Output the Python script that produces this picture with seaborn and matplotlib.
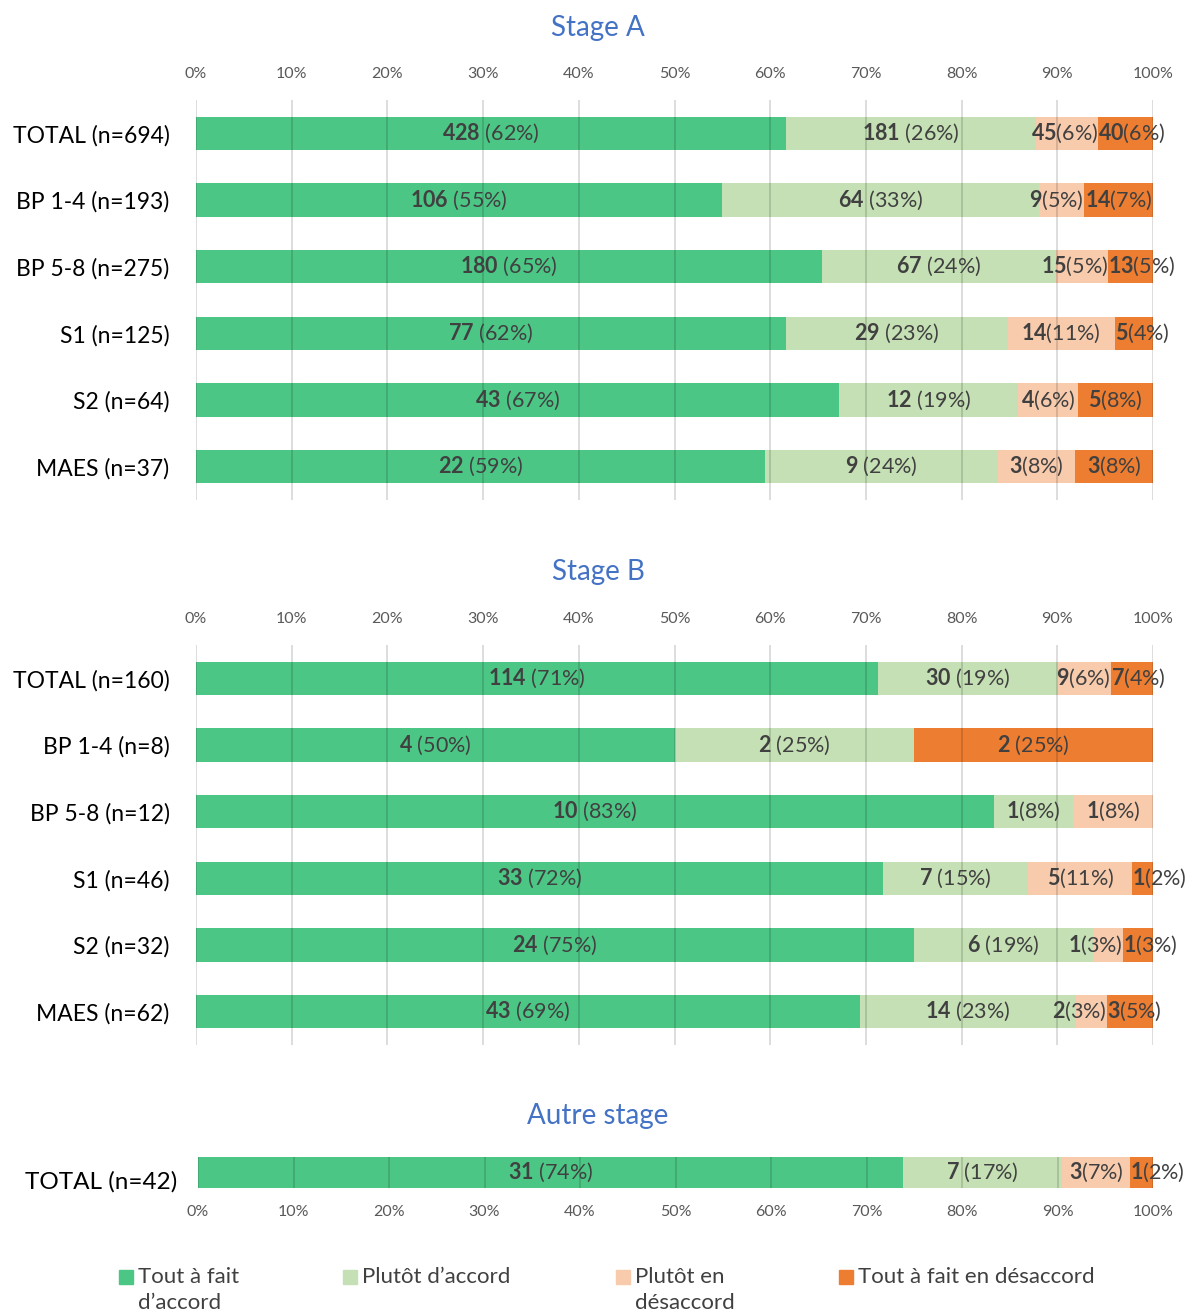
"""Stacked agreement bars for three internship stages."""

import matplotlib

matplotlib.use("Agg")
import matplotlib.pyplot as plt
import numpy as np
import pandas as pd
import seaborn as sns
from matplotlib.patches import Rectangle

CATEGORIES = [
    "Tout à fait\nd’accord",
    "Plutôt d’accord",
    "Plutôt en\ndésaccord",
    "Tout à fait en désaccord",
]
COLORS = ["#4CC685", "#C5E0B4", "#F8CBAD", "#ED7D31"]
TICKS = list(range(0, 101, 10))

STAGE_A_GROUPS = ["TOTAL (n=694)", "BP 1-4 (n=193)", "BP 5-8 (n=275)",
                  "S1 (n=125)", "S2 (n=64)", "MAES (n=37)"]
STAGE_A_TOUT_ACCORD = [428, 106, 180, 77, 43, 22]
STAGE_A_PLUTOT_ACCORD = [181, 64, 67, 29, 12, 9]
STAGE_A_PLUTOT_DESACCORD = [45, 9, 15, 14, 4, 3]
STAGE_A_TOUT_DESACCORD = [40, 14, 13, 5, 5, 3]

STAGE_B_GROUPS = ["TOTAL (n=160)", "BP 1-4 (n=8)", "BP 5-8 (n=12)",
                  "S1 (n=46)", "S2 (n=32)", "MAES (n=62)"]
STAGE_B_TOUT_ACCORD = [114, 4, 10, 33, 24, 43]
STAGE_B_PLUTOT_ACCORD = [30, 2, 1, 7, 6, 14]
STAGE_B_PLUTOT_DESACCORD = [9, 0, 1, 5, 1, 2]
STAGE_B_TOUT_DESACCORD = [7, 2, 0, 1, 1, 3]

AUTRE_GROUPS = ["TOTAL (n=42)"]
AUTRE_TOUT_ACCORD = [31]
AUTRE_PLUTOT_ACCORD = [7]
AUTRE_PLUTOT_DESACCORD = [3]
AUTRE_TOUT_DESACCORD = [1]

W, H = 1190, 1312


def px_axes(fig, left, top, right, bottom):
    return fig.add_axes([left / W, 1 - bottom / H, (right - left) / W, (bottom - top) / H])


def draw_panel(fig, ax, groups, series, ylim, bar_width=0.5):
    counts = np.array(series, dtype=float).T
    shares = counts / counts.sum(axis=1, keepdims=True) * 100
    cum = shares.cumsum(axis=1)
    # overlay cumulative bars from the longest to the shortest
    for k in range(3, -1, -1):
        df = pd.DataFrame({"group": groups, "value": cum[:, k]})
        sns.barplot(data=df, x="value", y="group", order=groups, orient="h",
                    color=COLORS[k], saturation=1, width=bar_width,
                    errorbar=None, linewidth=0, ax=ax)
    ax.set_xlim(0, 100)
    ax.set_ylim(*ylim)

    renderer = fig.canvas.get_renderer()
    px_per_unit = ax.get_window_extent(renderer).width / 100
    for i in range(len(groups)):
        prev_right = -np.inf
        for k in range(4):
            pct = shares[i, k]
            if counts[i, k] == 0:
                continue
            start, end = cum[i, k] - pct, cum[i, k]
            sep = " " if pct >= 12 else ""
            txt = ax.text(0, i, f"$\\mathbf{{{int(counts[i, k])}}}${sep}({pct:.0f}%)",
                          ha="left", va="center", fontsize=15.5, color="#404040")
            width = txt.get_window_extent(renderer).width / px_per_unit
            left = (start + end) / 2 - width / 2
            if width > pct:
                if k == 3:
                    left = start
                elif k == 2:
                    left = end - width
            left = max(left, prev_right)
            txt.set_x(left)
            prev_right = left + width

    ax.set_xticks(TICKS)
    ax.set_xticklabels([f"{t}%" for t in TICKS])
    ax.grid(axis="x", color="black", alpha=0.15, linewidth=1.3)
    ax.grid(axis="y", visible=False)
    ax.set_axisbelow(False)
    ax.set_xlabel("")
    ax.set_ylabel("")
    sns.despine(ax=ax, left=True, bottom=True)
    ax.tick_params(axis="both", length=0)
    ax.tick_params(axis="x", labelsize=11.5, labelcolor="#595959")
    ax.tick_params(axis="y", labelsize=16.5, labelcolor="black")


def main():
    sns.set_theme(style="white")
    plt.rcParams["font.family"] = ["Lato", "DejaVu Sans"]
    plt.rcParams["mathtext.fontset"] = "custom"
    plt.rcParams["mathtext.rm"] = "Lato"
    plt.rcParams["mathtext.bf"] = "Lato:bold"

    fig = plt.figure(figsize=(W / 100, H / 100), dpi=100)
    title_kw = dict(ha="center", va="center", fontsize=20, color="#4472C4")

    ax_a = px_axes(fig, 196, 100, 1153, 500)
    draw_panel(fig, ax_a, STAGE_A_GROUPS,
               [STAGE_A_TOUT_ACCORD, STAGE_A_PLUTOT_ACCORD,
                STAGE_A_PLUTOT_DESACCORD, STAGE_A_TOUT_DESACCORD],
               (len(STAGE_A_GROUPS) - 0.5, -0.5))
    ax_a.xaxis.tick_top()
    ax_a.tick_params(axis="x", pad=14)
    ax_a.tick_params(axis="y", pad=19)
    fig.text(598 / W, 1 - 28 / H, "Stage A", **title_kw)

    ax_b = px_axes(fig, 196, 645, 1153, 1045)
    draw_panel(fig, ax_b, STAGE_B_GROUPS,
               [STAGE_B_TOUT_ACCORD, STAGE_B_PLUTOT_ACCORD,
                STAGE_B_PLUTOT_DESACCORD, STAGE_B_TOUT_DESACCORD],
               (len(STAGE_B_GROUPS) - 0.5, -0.5))
    ax_b.xaxis.tick_top()
    ax_b.tick_params(axis="x", pad=14)
    ax_b.tick_params(axis="y", pad=19)
    fig.text(598 / W, 1 - 572 / H, "Stage B", **title_kw)

    ax_c = px_axes(fig, 198, 1157, 1153, 1188)
    draw_panel(fig, ax_c, AUTRE_GROUPS,
               [AUTRE_TOUT_ACCORD, AUTRE_PLUTOT_ACCORD,
                AUTRE_PLUTOT_DESACCORD, AUTRE_TOUT_DESACCORD],
               (0.25, -0.25))
    ax_c.set_yticks([0.12], AUTRE_GROUPS)
    ax_c.tick_params(axis="x", pad=12)
    ax_c.tick_params(axis="y", pad=15, labelsize=17.5)
    fig.text(598 / W, 1 - 1116 / H, "Autre stage", **title_kw)

    # legend
    square_x = [119, 343, 616, 839]
    for x, label, color in zip(square_x, CATEGORIES, COLORS):
        fig.patches.append(Rectangle((x / W, 1 - 1284 / H), 14 / W, 14 / H,
                                     transform=fig.transFigure, color=color))
        fig.text((x + 19) / W, 1 - 1267 / H, label, ha="left", va="top",
                 fontsize=16, color="#404040", linespacing=1.4)

    fig.savefig("out.png", dpi=100)
    plt.close(fig)


if __name__ == "__main__":
    main()
